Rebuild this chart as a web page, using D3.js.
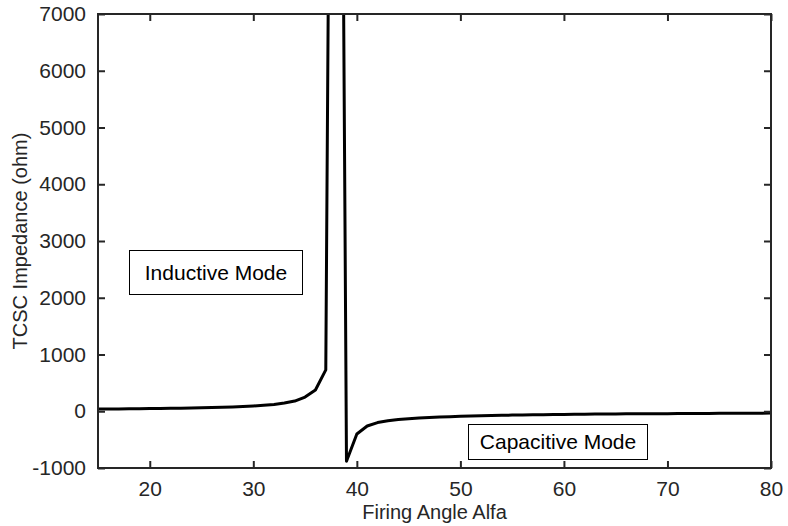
<!DOCTYPE html>
<html><head><meta charset="utf-8">
<script src="https://cdn.jsdelivr.net/npm/d3@7"></script>
<style>body{margin:0;background:#fff}svg{display:block}text{font-family:"Liberation Sans",Arial,sans-serif}</style>
</head><body><svg id="c" width="788" height="526"></svg>
<script>
const alpha = [15,16,17,18,19,20,21,22,23,24,25,26,27,28,29,30,31,32,33,34,35,36,37,38,39,40,41,42,43,44,45,46,47,48,49,50,51,52,53,54,55,56,57,58,59,60,61,62,63,64,65,66,67,68,69,70,71,72,73,74,75,76,77,78,79,80];
const impedance = [38,40,41,43,45,47,49,51,54,57,61,65,70,76,83,92,105,120,145,180,250,375,728,28000,-880,-400,-260,-200,-168,-147,-132,-120,-110,-102,-95,-89,-84,-79,-75,-71,-68,-65,-62,-60,-58,-56,-54,-52,-50,-49,-47,-46,-45,-44,-43,-42,-41,-40,-39,-38,-37,-36,-35,-35,-34,-33];
const xTicks = [20,30,40,50,60,70,80];
const yTicks = [-1000,0,1000,2000,3000,4000,5000,6000,7000];
const annotations = [{text:"Inductive Mode", x0:129.5, y0:250.5, x1:302.5, y1:294.5},
                     {text:"Capacitive Mode", x0:468.5, y0:424.5, x1:647.5, y1:459.5}];

const svg = d3.select("#c");
const L=98, R=771, T=14, B=468;
const x = d3.scaleLinear().domain([15,80]).range([L,R]);
const y = d3.scaleLinear().domain([-1000,7000]).range([B,T]);
const ax = "#262626";

svg.append("defs").append("clipPath").attr("id","clip")
  .append("rect").attr("x",L).attr("y",T).attr("width",R-L).attr("height",B-T);

const line = d3.line().x((d,i)=>x(alpha[i])).y(d=>y(d));
svg.append("path").datum(impedance).attr("clip-path","url(#clip)")
  .attr("d",line).attr("fill","none").attr("stroke","#000").attr("stroke-width",3).attr("stroke-linejoin","round");

const fs = 21;
const gB = svg.append("g").attr("transform",`translate(0,${B})`)
  .call(d3.axisBottom(x).tickValues(xTicks).tickSizeInner(-7).tickSizeOuter(0).tickPadding(14).tickFormat(d3.format("d")));
const gT = svg.append("g").attr("transform",`translate(0,${T})`)
  .call(d3.axisTop(x).tickValues(xTicks).tickSizeInner(-7).tickSizeOuter(0).tickFormat(""));
const gL = svg.append("g").attr("transform",`translate(${L},0)`)
  .call(d3.axisLeft(y).tickValues(yTicks).tickSizeInner(-7).tickSizeOuter(0).tickPadding(12).tickFormat(d=>String(d)));
const gR = svg.append("g").attr("transform",`translate(${R},0)`)
  .call(d3.axisRight(y).tickValues(yTicks).tickSizeInner(-7).tickSizeOuter(0).tickFormat(""));
[gB,gT,gL,gR].forEach(g=>{
  g.select(".domain").remove();
  g.selectAll(".tick line").attr("stroke",ax).attr("stroke-width",2);
  g.selectAll(".tick text").attr("fill",ax).style("font-size",fs+"px").style("font-family","Liberation Sans, Arial, sans-serif");
});
gB.selectAll(".tick text").attr("dy","0.71em").attr("y",13);
svg.append("rect").attr("x",L).attr("y",T).attr("width",R-L).attr("height",B-T)
  .attr("fill","none").attr("stroke",ax).attr("stroke-width",2);

svg.append("text").attr("x",(L+R)/2).attr("y",519).attr("text-anchor","middle")
  .attr("fill",ax).style("font-size","20px").text("Firing Angle Alfa");
svg.append("text").attr("transform",`translate(27,${(T+B)/2}) rotate(-90)`).attr("text-anchor","middle")
  .attr("fill",ax).style("font-size","20px").text("TCSC Impedance (ohm)");

annotations.forEach(a=>{
  svg.append("rect").attr("x",a.x0).attr("y",a.y0).attr("width",a.x1-a.x0).attr("height",a.y1-a.y0)
    .attr("fill","#fff").attr("stroke","#000").attr("stroke-width",1);
  svg.append("text").attr("x",(a.x0+a.x1)/2).attr("y",(a.y0+a.y1)/2).attr("dy","0.35em")
    .attr("text-anchor","middle").attr("fill","#000").style("font-size","21px").text(a.text);
});
</script></body></html>
